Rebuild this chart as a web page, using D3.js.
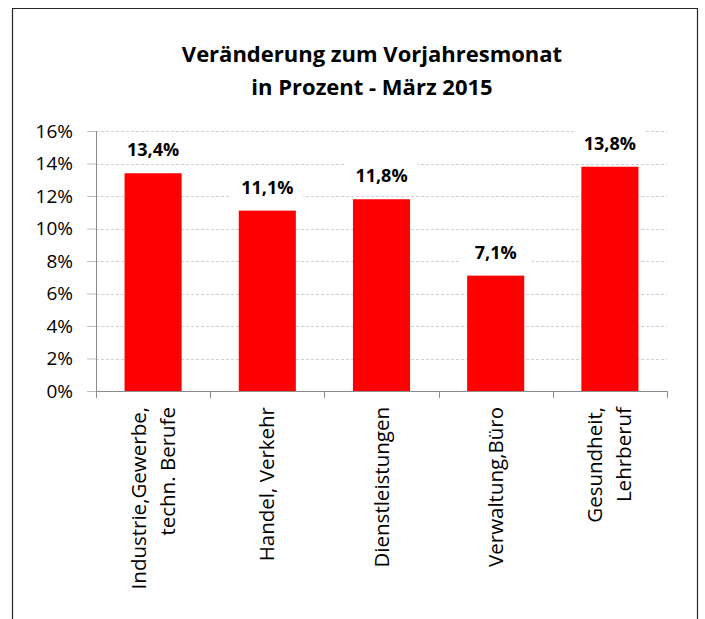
<!DOCTYPE html>
<html>
<head>
<meta charset="utf-8">
<script src="https://cdn.jsdelivr.net/npm/d3@7"></script>
<style>
body { margin: 0; background: #fff; }
text { font-family: "Open Sans", "Noto Sans", sans-serif; }
</style>
</head>
<body>
<div id="chart-area"></div>
<script>
// data
var categories = [
    ["Industrie,Gewerbe,", "techn. Berufe"],
    ["Handel, Verkehr"],
    ["Dienstleistungen"],
    ["Verwaltung,Büro"],
    ["Gesundheit,", "Lehrberuf"]
];
var values = [13.4, 11.1, 11.8, 7.1, 13.8];
var yTicks = [0, 2, 4, 6, 8, 10, 12, 14, 16];
var titleLines = ["Veränderung zum Vorjahresmonat", "in Prozent - März 2015"];

var width = 705;
var height = 619;

var margin = { left: 96, right: 38, top: 131, bottom: 228 };
var plotW = width - margin.left - margin.right;
var plotH = height - margin.top - margin.bottom;

var svg = d3.select("#chart-area").append("svg")
    .attr("width", width)
    .attr("height", height);

// outer frame
svg.append("path")
    .attr("d", "M12.5,619 L12.5,8.5 L697.5,8.5 L697.5,619")
    .attr("fill", "none")
    .attr("stroke", "#262626")
    .attr("stroke-width", 1.2);

// title
svg.selectAll(".title")
    .data(titleLines)
    .enter().append("text")
    .attr("class", "title")
    .attr("x", 372)
    .attr("y", (d, i) => 62 + i * 33)
    .attr("text-anchor", "middle")
    .attr("font-size", "22px")
    .attr("font-weight", "bold")
    .style("fill", "#000")
    .text(d => d);

var g = svg.append("g")
    .attr("transform", "translate(" + margin.left + ", " + margin.top + ")");

var keys = categories.map(d => d.join(" "));

var x = d3.scaleBand()
    .domain(keys)
    .range([0, plotW])
    .paddingInner(0.5)
    .paddingOuter(0.25);

var y = d3.scaleLinear()
    .domain([0, 16])
    .range([plotH, 0]);

// gridlines
g.selectAll(".grid")
    .data(yTicks.slice(1))
    .enter().append("line")
    .attr("class", "grid")
    .attr("x1", 0)
    .attr("x2", plotW)
    .attr("y1", d => Math.round(y(d)) + 0.5)
    .attr("y2", d => Math.round(y(d)) + 0.5)
    .attr("stroke", "#d0d0d0")
    .attr("stroke-dasharray", "3,2");

// y axis
var leftAxis = d3.axisLeft(y)
    .tickValues(yTicks)
    .tickSize(9)
    .tickPadding(14)
    .tickFormat(d => d + "%");
var yAxisG = g.append("g")
    .attr("class", "left axis")
    .call(leftAxis);
yAxisG.select(".domain").attr("stroke", "#8c8c8c");
yAxisG.selectAll(".tick line").attr("stroke", "#bfbfbf");
yAxisG.selectAll(".tick text")
    .attr("font-size", "19px")
    .style("fill", "#000");

// bars
g.selectAll(".bar")
    .data(values)
    .enter().append("rect")
    .attr("class", "bar")
    .attr("x", (d, i) => x(keys[i]))
    .attr("y", d => y(d))
    .attr("width", x.bandwidth())
    .attr("height", d => plotH - y(d))
    .attr("fill", "#ff0000");

// x axis
var step = x.step();
var xAxisG = g.append("g")
    .attr("class", "bottom axis")
    .attr("transform", "translate(0, " + plotH + ")");
xAxisG.append("line")
    .attr("x1", 0).attr("x2", plotW)
    .attr("y1", 0.5).attr("y2", 0.5)
    .attr("stroke", "#8c8c8c");
xAxisG.selectAll(".xtick")
    .data(d3.range(keys.length + 1))
    .enter().append("line")
    .attr("class", "xtick")
    .attr("x1", i => Math.round(i * step) + 0.5)
    .attr("x2", i => Math.round(i * step) + 0.5)
    .attr("y1", 0)
    .attr("y2", 7)
    .attr("stroke", "#8c8c8c");

// category labels (rotated)
var lineGap = 29;
categories.forEach((lines, i) => {
    var cx = x(keys[i]) + x.bandwidth() / 2;
    var t = xAxisG.append("text")
        .attr("text-anchor", "end")
        .attr("font-size", "20.5px")
        .style("fill", "#000")
        .attr("transform", "translate(" + cx + ", 16) rotate(-90)");
    lines.forEach((l, j) => {
        var off = (j - (lines.length - 1) / 2) * lineGap + 7;
        t.append("tspan")
            .attr("x", 0)
            .attr("y", off)
            .text(l);
    });
});

// value labels
var labels = g.selectAll(".vlabel")
    .data(values)
    .enter().append("g")
    .attr("class", "vlabel")
    .attr("transform", (d, i) => "translate(" + (x(keys[i]) + x.bandwidth() / 2) + ", " + (y(d) - 17) + ")");
labels.append("rect")
    .attr("x", -36)
    .attr("y", -19)
    .attr("width", 72)
    .attr("height", 24)
    .attr("fill", "#fff");
labels.append("text")
    .attr("text-anchor", "middle")
    .attr("font-size", "18px")
    .attr("font-weight", "bold")
    .style("fill", "#000")
    .text(d => d.toFixed(1).replace(".", ",") + "%");
</script>
</body>
</html>
